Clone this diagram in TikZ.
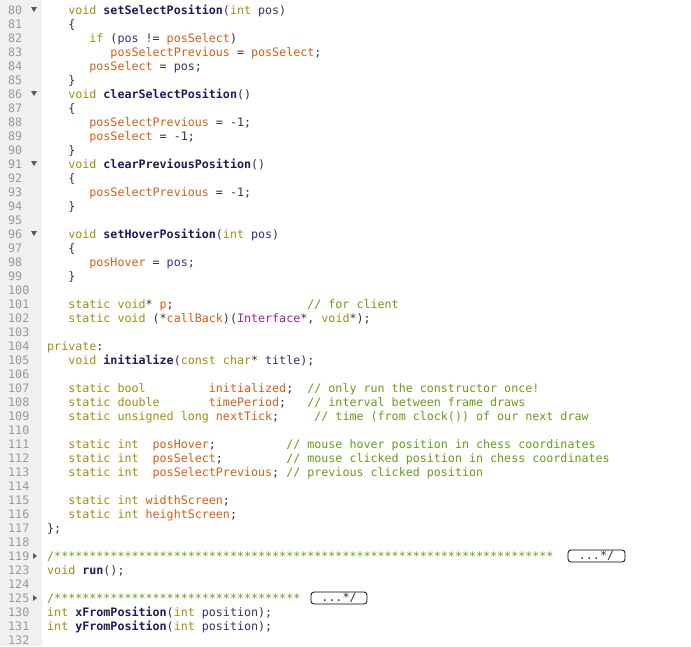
\documentclass[tikz,border=0pt]{standalone}
\usepackage{fontspec}
\setmonofont{DejaVu Sans Mono}
\definecolor{ckwc}{HTML}{A08E10}
\definecolor{cfnc}{HTML}{1C1C5C}
\definecolor{cvrc}{HTML}{3A2D7A}
\definecolor{cmbc}{HTML}{D2601A}
\definecolor{ccmc}{HTML}{6A9C1A}
\definecolor{ctyc}{HTML}{A0209A}
\definecolor{cpun}{HTML}{333333}
\definecolor{cgut}{HTML}{F0F0F0}
\definecolor{cnum}{HTML}{999999}
\newcommand\codef{\ttfamily\fontsize{11.68}{14}\selectfont}
\newcommand\ckw[1]{\textcolor{ckwc}{#1}}
\newcommand\cfn[1]{\textcolor{cfnc}{\bfseries #1}}
\newcommand\cvr[1]{\textcolor{cvrc}{#1}}
\newcommand\cmb[1]{\textcolor{cmbc}{#1}}
\newcommand\ccm[1]{\textcolor{ccmc}{#1}}
\newcommand\cty[1]{\textcolor{ctyc}{#1}}
\newlength\cw
\setlength\cw{7.03pt}
\newcommand\sk[1]{\hspace*{#1\cw}}
\newcommand\Row[4]{%
  \node[numtxt] (n#1) at (8,{-14-14*#1}) {#2};
  \node[code] (c#1) at ({47+7.03*#3},{-14-14*#1}) {#4};}
\newcommand\Blank[2]{\node[numtxt] (n#1) at (8,{-14-14*#1}) {#2};}
\newcommand\FoldD[1]{\fill[cpun!80] (31,{-7-14*#1}) -- (37,{-7-14*#1}) -- (34,{-12-14*#1}) -- cycle;}
\newcommand\FoldR[1]{\fill[cpun!80] (33,{-7-14*#1}) -- (33,{-13-14*#1}) -- (37,{-10-14*#1}) -- cycle;}
\begin{document}
\begin{tikzpicture}[x=1pt,y=1pt,
  code/.style={anchor=base west,inner sep=0,font=\codef,text=cpun},
  numtxt/.style={anchor=base west,inner sep=0,font=\codef,text=cnum},
  foldbox/.style={draw=black,rounded corners=3pt,line width=0.8pt,inner sep=0,font=\codef,text=cpun,minimum height=12pt}]
\useasboundingbox (0,0) rectangle (691,-646);
\fill[white] (0,0) rectangle (691,-646);
\fill[cgut] (0,0) rectangle (42,-646);
\Row{0}{80}{3}{\ckw{void} \cfn{setSelectPosition}(\ckw{int} \cvr{pos})}\FoldD{0}
\Row{1}{81}{3}{\{}
\Row{2}{82}{6}{\ckw{if} (\cvr{pos} != \cmb{posSelect})}
\Row{3}{83}{9}{\cmb{posSelectPrevious} = \cmb{posSelect};}
\Row{4}{84}{6}{\cmb{posSelect} = \cvr{pos};}
\Row{5}{85}{3}{\}}
\Row{6}{86}{3}{\ckw{void} \cfn{clearSelectPosition}()}\FoldD{6}
\Row{7}{87}{3}{\{}
\Row{8}{88}{6}{\cmb{posSelectPrevious} = -1;}
\Row{9}{89}{6}{\cmb{posSelect} = -1;}
\Row{10}{90}{3}{\}}
\Row{11}{91}{3}{\ckw{void} \cfn{clearPreviousPosition}()}\FoldD{11}
\Row{12}{92}{3}{\{}
\Row{13}{93}{6}{\cmb{posSelectPrevious} = -1;}
\Row{14}{94}{3}{\}}
\Blank{15}{95}
\Row{16}{96}{3}{\ckw{void} \cfn{setHoverPosition}(\ckw{int} \cvr{pos})}\FoldD{16}
\Row{17}{97}{3}{\{}
\Row{18}{98}{6}{\cmb{posHover} = \cvr{pos};}
\Row{19}{99}{3}{\}}
\Blank{20}{100}
\Row{21}{101}{3}{\ckw{static} \ckw{void}* \cmb{p};\sk{19}\ccm{// for client}}
\Row{22}{102}{3}{\ckw{static} \ckw{void} (*\cmb{callBack})(\cty{Interface}*, \ckw{void}*);}
\Blank{23}{103}
\Row{24}{104}{0}{\ckw{private}:}
\Row{25}{105}{3}{\ckw{void} \cfn{initialize}(\ckw{const} \ckw{char}* \cvr{title});}
\Blank{26}{106}
\Row{27}{107}{3}{\ckw{static} \ckw{bool}\sk{9}\cmb{initialized};\sk{2}\ccm{// only run the constructor once!}}
\Row{28}{108}{3}{\ckw{static} \ckw{double}\sk{7}\cmb{timePeriod};\sk{3}\ccm{// interval between frame draws}}
\Row{29}{109}{3}{\ckw{static} \ckw{unsigned} \ckw{long} \cmb{nextTick};\sk{5}\ccm{// time (from clock()) of our next draw}}
\Blank{30}{110}
\Row{31}{111}{3}{\ckw{static} \ckw{int}\sk{2}\cmb{posHover};\sk{10}\ccm{// mouse hover position in chess coordinates}}
\Row{32}{112}{3}{\ckw{static} \ckw{int}\sk{2}\cmb{posSelect};\sk{9}\ccm{// mouse clicked position in chess coordinates}}
\Row{33}{113}{3}{\ckw{static} \ckw{int}\sk{2}\cmb{posSelectPrevious}; \ccm{// previous clicked position}}
\Blank{34}{114}
\Row{35}{115}{3}{\ckw{static} \ckw{int} \cmb{widthScreen};}
\Row{36}{116}{3}{\ckw{static} \ckw{int} \cmb{heightScreen};}
\Row{37}{117}{0}{\};}
\Blank{38}{118}
\Row{39}{119}{0}{\ccm{/***********************************************************************}}\FoldR{39}
\node[foldbox,minimum width=57pt] (f1) at (596.5,-556) {...*/};
\Row{40}{123}{0}{\ckw{void} \cfn{run}();}
\Blank{41}{124}
\Row{42}{125}{0}{\ccm{/***********************************}}\FoldR{42}
\node[foldbox,minimum width=56pt] (f2) at (339,-598) {...*/};
\Row{43}{130}{0}{\ckw{int} \cfn{xFromPosition}(\ckw{int} \cvr{position});}
\Row{44}{131}{0}{\ckw{int} \cfn{yFromPosition}(\ckw{int} \cvr{position});}
\Blank{45}{132}
\end{tikzpicture}
\end{document}
